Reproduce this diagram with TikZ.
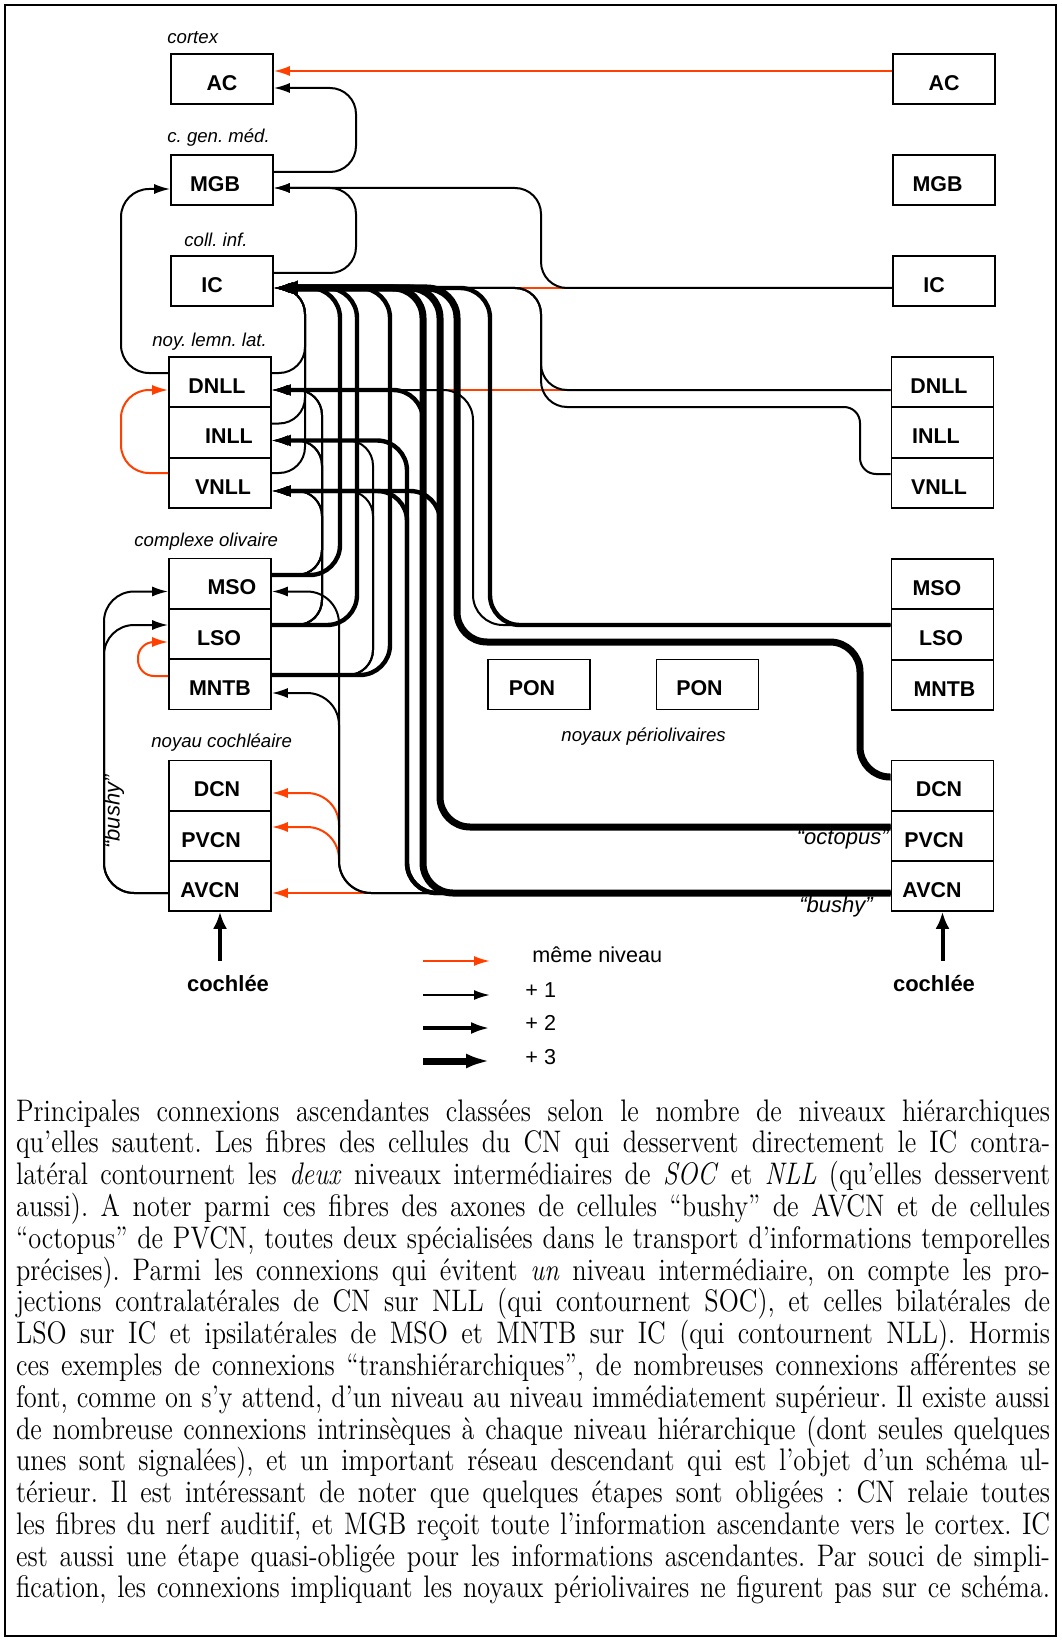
\documentclass[tikz,border=0pt]{standalone}
\usepackage{fontspec}
\setsansfont{Liberation Sans}
\usepackage{graphicx}
\usetikzlibrary{arrows.meta}
\definecolor{nivred}{RGB}{255,64,0}
\newcommand{\cpfont}{\fontsize{13.2}{13.47}\selectfont}
\newcommand{\cpline}[1]{\makebox[517pt][s]{#1}}
\frenchspacing
\begin{document}
\begin{tikzpicture}[x=0.5pt, y=-0.5pt,
  box/.style={draw, line width=0.8pt, minimum width=51pt, minimum height=25pt, inner sep=0pt,
    text height=11.4pt, text depth=0pt,
    font=\sffamily\bfseries\fontsize{10.7}{12}\selectfont},
  grp/.style={font=\sffamily\itshape\fontsize{9.3}{11}\selectfont, inner sep=0pt},
  quot/.style={font=\sffamily\itshape\fontsize{11}{13}\selectfont, inner sep=0pt},
  legtxt/.style={font=\sffamily\fontsize{10.8}{12}\selectfont, inner sep=0pt, anchor=west},
  cochtxt/.style={font=\sffamily\bfseries\fontsize{11}{13}\selectfont, inner sep=0pt},
  lvl0/.style={draw=nivred, line width=1pt, -{Latex[length=8pt,width=5pt]}},
  lvl1/.style={line width=1pt, -{Latex[length=8pt,width=5pt]}},
  lvl2/.style={line width=2.2pt, -{Latex[length=9.5pt,width=6pt]}},
  lvl3/.style={line width=3.5pt, -{Latex[length=12pt,width=7.5pt]}},
  inputarrow/.style={line width=2pt, {Latex[length=8.5pt,width=7pt]}-},
]
\useasboundingbox (0,0) rectangle (1061,1642);
\draw[line width=1.2pt] (5,5) rectangle (1056,1636);

% ---------- ipsilateral column ----------
\node[box] (acL)   at (222,79)    {AC};
\node[box] (mgbL)  at (222,180)   {MGB\hspace*{7pt}};
\node[box] (icL)   at (222,281)   {IC\hspace*{10pt}};
\node[box] (dnllL) at (220,382)   {DNLL\hspace*{3pt}};
\node[box] (inllL) at (220,432.5) {\hspace*{9pt}INLL};
\node[box] (vnllL) at (220,483)   {\hspace*{3pt}VNLL};
\node[box] (msoL)  at (220,583.5) {\hspace*{12pt}MSO};
\node[box] (lsoL)  at (220,634)   {LSO\hspace*{1pt}};
\node[box] (mntbL) at (220,684.5) {MNTB};
\node[box] (dcnL)  at (220,785.5) {DCN\hspace*{3pt}};
\node[box] (pvcnL) at (220,836)   {PVCN\hspace*{9pt}};
\node[box] (avcnL) at (220,886)   {AVCN\hspace*{10pt}};

% ---------- contralateral column ----------
\node[box] (acR)   at (944,79)    {AC};
\node[box] (mgbR)  at (944,180)   {MGB\hspace*{6.5pt}};
\node[box] (icR)   at (944,281)   {IC\hspace*{10pt}};
\node[box] (dnllR) at (942.5,382) {DNLL\hspace*{3.5pt}};
\node[box] (inllR) at (942.5,432.5) {INLL\hspace*{6.5pt}};
\node[box] (vnllR) at (942.5,483) {VNLL\hspace*{3.5pt}};
\node[box] (msoR)  at (942.5,584) {MSO\hspace*{5.5pt}};
\node[box] (lsoR)  at (942.5,634.5) {LSO\hspace*{1.5pt}};
\node[box] (mntbR) at (942.5,685) {\hspace*{2pt}MNTB};
\node[box] (dcnR)  at (942.5,785.5) {DCN\hspace*{3.5pt}};
\node[box] (pvcnR) at (942.5,836) {PVCN\hspace*{8.5pt}};
\node[box] (avcnR) at (942.5,886) {AVCN\hspace*{10.5pt}};

% periolivary nuclei
\node[box] (ponA) at (539,684.5)   {PON\hspace*{7pt}};
\node[box] (ponB) at (707.5,684.5) {PON\hspace*{8pt}};

% ---------- group labels ----------
\node[grp, anchor=west] (tCortex) at (167,38)  {cortex};
\node[grp, anchor=west] (tCgm)    at (167,138) {c. gen. méd.};
\node[grp, anchor=west] (tColl)   at (184,240) {coll. inf.};
\node[grp, anchor=west] (tNll)    at (152,342) {noy. lemn. lat.};
\node[grp, anchor=west] (tSoc)    at (134,542) {complexe olivaire};
\node[grp, anchor=west] (tCn)     at (151,743) {noyau cochléaire};
\node[grp, anchor=west] (tPon)    at (561,737) {noyaux périolivaires};
\node[quot, anchor=east] (tOct)   at (889,839) {“octopus”};
\node[quot, anchor=east] (tBushR) at (873,907) {“bushy”};
\node[quot, rotate=90]   (tBushL) at (114,812) {“bushy”};

\node[cochtxt] (cochL) at (228,984) {cochlée};
\node[cochtxt] (cochR) at (934,984) {cochlée};
\draw[inputarrow] (avcnL.south) -- ++(0,49);
\draw[inputarrow] (avcnR.south) -- ++(0,49);

% ---------- ports ----------
\coordinate (acLin)     at ([yshift=-4.5pt]acL.east);
\coordinate (acLred)    at ([yshift=4pt]acL.east);
\coordinate (mgbLout)   at ([yshift=4pt]mgbL.east);
\coordinate (mgbLin)    at ([yshift=-4pt]mgbL.east);
\coordinate (mgbLwin)   at ([yshift=-4.5pt]mgbL.west);
\coordinate (icLout)    at ([yshift=4pt]icL.east);
\coordinate (icLin)     at ([yshift=-3.5pt]icL.east);
\coordinate (dnllLout)  at ([yshift=4.5pt]dnllL.east);
\coordinate (dnllLin)   at ([yshift=-4pt]dnllL.east);
\coordinate (dnllLwout) at ([yshift=4.5pt]dnllL.west);
\coordinate (dnllLwin)  at ([yshift=-4pt]dnllL.west);
\coordinate (inllLout)  at ([yshift=4.5pt]inllL.east);
\coordinate (inllLin)   at ([yshift=-4pt]inllL.east);
\coordinate (vnllLout)  at ([yshift=5pt]vnllL.east);
\coordinate (vnllLin)   at ([yshift=-4pt]vnllL.east);
\coordinate (vnllLwout) at ([yshift=5pt]vnllL.west);
\coordinate (msoLout)   at ([yshift=4.25pt]msoL.east);
\coordinate (msoLin)    at ([yshift=-4pt]msoL.east);
\coordinate (msoLwin)   at ([yshift=-4pt]msoL.west);
\coordinate (lsoLout)   at ([yshift=4.5pt]lsoL.east);
\coordinate (lsoLwin)   at ([yshift=4.5pt]lsoL.west);
\coordinate (lsoLwred)  at ([yshift=-4pt]lsoL.west);
\coordinate (mntbLout)  at ([yshift=4.75pt]mntbL.east);
\coordinate (mntbLin)   at ([yshift=-4.25pt]mntbL.east);
\coordinate (mntbLwred) at ([yshift=4.25pt]mntbL.west);
\coordinate (dcnLin)    at ([yshift=-3.75pt]dcnL.east);
\coordinate (pvcnLin)   at ([yshift=4.5pt]pvcnL.east);
\coordinate (avcnLin)   at ([yshift=-3.5pt]avcnL.east);
\coordinate (avcnLwout) at ([yshift=-3.5pt]avcnL.west);

\coordinate (acRout)   at ([yshift=4pt]acR.west);
\coordinate (icRout)   at ([yshift=-3.5pt]icR.west);
\coordinate (dnllRout) at ([yshift=-4pt]dnllR.west);
\coordinate (vnllRout) at ([yshift=4.5pt]vnllR.west);
\coordinate (lsoRout)  at ([yshift=4.75pt]lsoR.west);
\coordinate (dcnRout)  at ([yshift=4.25pt]dcnR.west);
\coordinate (pvcnRout) at ([yshift=4.5pt]pvcnR.west);
\coordinate (avcnRout) at ([yshift=-3.5pt]avcnR.west);

% vertical rails of the fibre bundles
\foreach \x in {104,121,138,305,322,339,340,356,357,373,390,407,423,440,457,473,490,541}
  \coordinate (r\x) at (\x,0);
\coordinate (jogV) at (860,407);
\coordinate (jogD) at (860,642);
\coordinate (redPVbot) at (339,860);

% ---------- same level (red) ----------
\draw[lvl0] (acRout) -- (acLred);
\draw[lvl0] (icRout) -- (icLin);
\draw[lvl0] (dnllRout) -- (dnllLin);
\draw[lvl0] (avcnRout) -- (avcnLin);
\draw[lvl0, rounded corners=14pt] (vnllLwout) -| (r121 |- dnllLwin) -- (dnllLwin);
\draw[lvl0, rounded corners=8pt] (mntbLwred) -| (r138 |- lsoLwred) -- (lsoLwred);
\draw[lvl0, rounded corners=16pt] (r339 |- pvcnLin) |- (dcnLin);
\draw[lvl0, rounded corners=16pt] (redPVbot) |- (pvcnLin);

% ---------- one level up ----------
\draw[lvl1, rounded corners=13pt] (mgbLout) -| (r356 |- acLin) -- (acLin);
\draw[lvl1, rounded corners=13pt] (icLout) -| (r356 |- mgbLin) -- (mgbLin);
\draw[lvl1, rounded corners=13pt] (icRout) -| (r541 |- mgbLin) -- (mgbLin);
\draw[lvl1, rounded corners=14pt] (dnllLwout) -| (r121 |- mgbLwin) -- (mgbLwin);
\foreach \src in {dnllLout,inllLout,vnllLout}
  \draw[lvl1, rounded corners=13pt] (\src) -| (r305 |- icLin) -- (icLin);
\foreach \src in {msoLout,lsoLout}
  \foreach \dst in {dnllLin,inllLin,vnllLin}
    \draw[lvl1, rounded corners=12.5pt] (\src) -| (r322 |- \dst) -- (\dst);
\foreach \dst in {inllLin,vnllLin}
  \draw[lvl1, rounded corners=12.5pt] (mntbLout) -| (r373 |- \dst) -- (\dst);
\foreach \dst in {msoLin,mntbLin}
  \draw[lvl1, rounded corners=16pt] (avcnRout) -| (r339 |- \dst) -- (\dst);
\draw[lvl1, rounded corners=13pt] (dnllRout) -| (r541 |- icLin) -- (icLin);
\draw[lvl1, rounded corners=8pt] (vnllRout) -| (jogV) [rounded corners=13pt] -| (r541 |- icLin) -- (icLin);
\draw[lvl1, rounded corners=15pt] (lsoRout) -| (r473 |- dnllLin) -- (dnllLin);
\foreach \dst in {msoLwin,lsoLwin}
  \draw[lvl1, rounded corners=15pt] (avcnLwout) -| (r104 |- \dst) -- (\dst);

% ---------- two levels up ----------
\foreach \src/\rail in {msoLout/r340, lsoLout/r357, mntbLout/r390}
  \draw[lvl2, rounded corners=15pt] (\src) -| (\rail |- icLin) -- (icLin);
\draw[lvl2, rounded corners=15pt] (lsoRout) -| (r490 |- icLin) -- (icLin);
\draw[lvl2, rounded corners=15pt] (avcnRout) -| (r407 |- inllLin) -- (inllLin);
\draw[lvl2, rounded corners=15pt] (avcnRout) -| (r407 |- vnllLin) -- (vnllLin);
\draw[lvl2, rounded corners=15pt] (avcnRout) -| (r423 |- dnllLin) -- (dnllLin);
\draw[lvl2, rounded corners=15pt] (pvcnRout) -| (r440 |- vnllLin) -- (vnllLin);

% ---------- three levels up ----------
\draw[lvl3, rounded corners=15pt] (avcnRout) -| (r423 |- icLin) -- (icLin);
\draw[lvl3, rounded corners=15pt] (pvcnRout) -| (r440 |- icLin) -- (icLin);
\draw[lvl3, rounded corners=15pt] (dcnRout) -| (jogD) -| (r457 |- icLin) -- (icLin);

% ---------- legend ----------
\coordinate (lg0a) at (423,961);  \coordinate (lg0b) at (490,961);
\coordinate (lg1a) at (423,995);  \coordinate (lg1b) at (490,995);
\coordinate (lg2a) at (423,1028); \coordinate (lg2b) at (490,1028);
\coordinate (lg3a) at (423,1061); \coordinate (lg3b) at (490,1061);
\draw[lvl0] (lg0a) -- (lg0b);
\draw[lvl1] (lg1a) -- (lg1b);
\draw[lvl2] (lg2a) -- (lg2b);
\draw[lvl3] (lg3a) -- (lg3b);
\node[legtxt] (lgt0) at (532,955)  {même niveau};
\node[legtxt] (lgt1) at (525,990)  {+ 1};
\node[legtxt] (lgt2) at (525,1023) {+ 2};
\node[legtxt] (lgt3) at (525,1057) {+ 3};

% ---------- caption ----------
\node[anchor=north west, inner sep=0pt] (caption) at (15.7,1099) {\scalebox{1}[1.18]{\parbox[t]{517pt}{\cpfont
\cpline{Principales connexions ascendantes classées selon le nombre de niveaux hiérarchiques}\\
\cpline{qu’elles sautent. Les fibres des cellules du CN qui desservent directement le IC contra-}\\
\cpline{latéral contournent les \textit{deux} niveaux intermédiaires de \textit{SOC} et \textit{NLL} (qu’elles desservent}\\
\cpline{aussi). A noter parmi ces fibres des axones de cellules “bushy” de AVCN et de cellules}\\
\cpline{“octopus” de PVCN, toutes deux spécialisées dans le transport d’informations temporelles}\\
\cpline{précises). Parmi les connexions qui évitent \textit{un} niveau intermédiaire, on compte les pro-}\\
\cpline{jections contralatérales de CN sur NLL (qui contournent SOC), et celles bilatérales de}\\
\cpline{LSO sur IC et ipsilatérales de MSO et MNTB sur IC (qui contournent NLL). Hormis}\\
\cpline{ces exemples de connexions “transhiérarchiques”, de nombreuses connexions afférentes se}\\
\cpline{font, comme on s’y attend, d’un niveau au niveau immédiatement supérieur. Il existe aussi}\\
\cpline{de nombreuse connexions intrinsèques à chaque niveau hiérarchique (dont seules quelques}\\
\cpline{unes sont signalées), et un important réseau descendant qui est l’objet d’un schéma ul-}\\
\cpline{térieur. Il est intéressant de noter que quelques étapes sont obligées : CN relaie toutes}\\
\cpline{les fibres du nerf auditif, et MGB reçoit toute l’information ascendante vers le cortex. IC}\\
\cpline{est aussi une étape quasi-obligée pour les informations ascendantes. Par souci de simpli-}\\
\cpline{fication, les connexions impliquant les noyaux périolivaires ne figurent pas sur ce schéma.}}}};
\end{tikzpicture}
\end{document}
